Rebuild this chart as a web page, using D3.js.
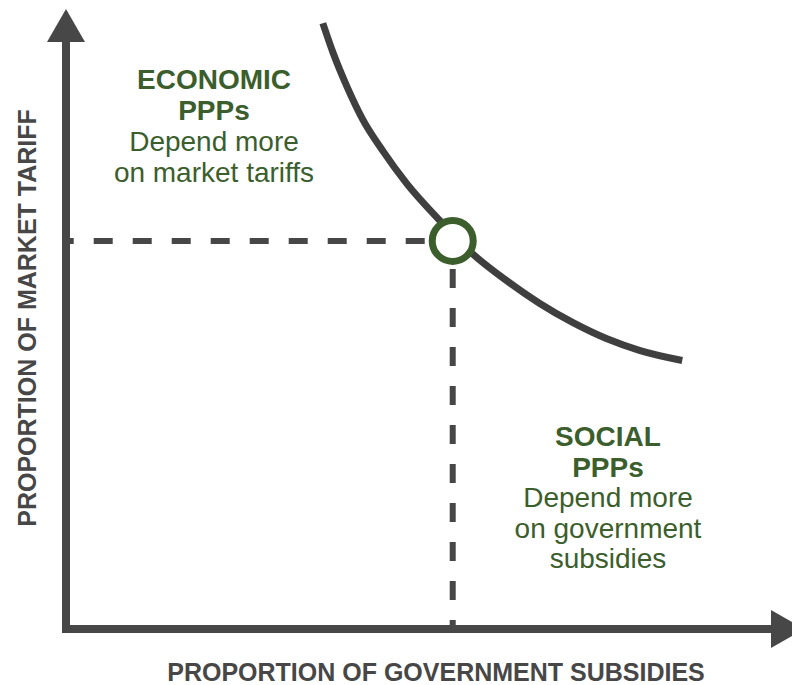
<!DOCTYPE html>
<html>
<head>
<meta charset="utf-8">
<script src="https://cdn.jsdelivr.net/npm/d3@7"></script>
<style>
  body { margin: 0; background: #fff; }
  text { font-family: "Liberation Sans", Arial, Helvetica, sans-serif; }
</style>
</head>
<body>
<script>
// curve: proportion of government subsidies (x) vs proportion of market tariff (y)
var curveX = [34.8, 36.2, 38.1, 40.2, 43.0, 46.2, 50.4, 55.1, 59.8, 64.2, 68.7, 73.3, 77.8, 83.5]
var curveY = [97.7, 92.9, 87.4, 82.2, 77.0, 71.8, 66.2, 60.5, 56.1, 52.5, 49.4, 46.8, 44.9, 43.3]
var pointX = 52.4
var pointY = 62.6

var xTitle = 'PROPORTION OF GOVERNMENT SUBSIDIES'
var yTitle = 'PROPORTION OF MARKET TARIFF'
var econLines = ['ECONOMIC', 'PPPs', 'Depend more', 'on market tariffs']
var socialLines = ['SOCIAL', 'PPPs', 'Depend more', 'on government', 'subsidies']

var width = 792
var height = 685
var grey = '#474747'
var green = '#3b5e2c'

var svg = d3.select('body').append('svg').attr('width', width).attr('height', height)

var xScale = d3.scaleLinear().domain([0, 100]).range([66, 804])
var yScale = d3.scaleLinear().domain([0, 100]).range([629, 9])

var x0 = xScale(0), y0 = yScale(0)
var arrowLen = 33, arrowHalf = 19

// axes
svg.append('line')
    .attr('x1', x0).attr('y1', y0 + 4)
    .attr('x2', x0).attr('y2', yScale(100) + arrowLen)
    .attr('stroke', grey).attr('stroke-width', 8)
svg.append('line')
    .attr('x1', x0 - 4).attr('y1', y0)
    .attr('x2', xScale(100) - arrowLen).attr('y2', y0)
    .attr('stroke', grey).attr('stroke-width', 8)
svg.append('path')
    .attr('d', `M${x0},${yScale(100)} L${x0 + arrowHalf},${yScale(100) + arrowLen} L${x0 - arrowHalf},${yScale(100) + arrowLen} Z`)
    .attr('fill', grey)
svg.append('path')
    .attr('d', `M${xScale(100)},${y0} L${xScale(100) - arrowLen},${y0 - arrowHalf} L${xScale(100) - arrowLen},${y0 + arrowHalf} Z`)
    .attr('fill', grey)

// dashed guides, drawn outward from the point
var px = xScale(pointX), py = yScale(pointY)
var gap = 28
svg.append('line')
    .attr('x1', px - gap).attr('y1', py).attr('x2', x0 + 4).attr('y2', py)
    .attr('stroke', grey).attr('stroke-width', 6).attr('stroke-dasharray', '19,20')
svg.append('line')
    .attr('x1', px).attr('y1', py + gap).attr('x2', px).attr('y2', y0 - 4)
    .attr('stroke', grey).attr('stroke-width', 6).attr('stroke-dasharray', '19,20')

// curve
var pts = curveX.map((d, i) => [d, curveY[i]])
var line = d3.line().x(d => xScale(d[0])).y(d => yScale(d[1])).curve(d3.curveMonotoneX)
svg.append('path').datum(pts)
    .attr('d', line)
    .attr('fill', 'none').attr('stroke', '#3f3f3f').attr('stroke-width', 7)

// equilibrium point
svg.append('circle')
    .attr('cx', px).attr('cy', py).attr('r', 20.5)
    .attr('fill', '#fff').attr('stroke', green).attr('stroke-width', 7)

// annotations
function block(lines, cx, y, step) {
    var t = svg.append('text').attr('text-anchor', 'middle').attr('fill', green).attr('font-size', 28)
    lines.forEach((s, i) => {
        t.append('tspan').attr('x', cx).attr('y', y + i * step)
            .attr('font-weight', i < 2 ? 'bold' : 'normal')
            .text(s)
    })
}
block(econLines, 214, 89, 31)
block(socialLines, 608, 446, 30.5)

// axis titles
svg.append('text')
    .attr('x', 436).attr('y', 681)
    .attr('text-anchor', 'middle')
    .attr('font-size', 25).attr('font-weight', 'bold').attr('fill', grey)
    .text(xTitle)
svg.append('text')
    .attr('transform', 'translate(36,318) rotate(-90)')
    .attr('text-anchor', 'middle')
    .attr('font-size', 25).attr('font-weight', 'bold').attr('fill', grey)
    .text(yTitle)
</script>
</body>
</html>
